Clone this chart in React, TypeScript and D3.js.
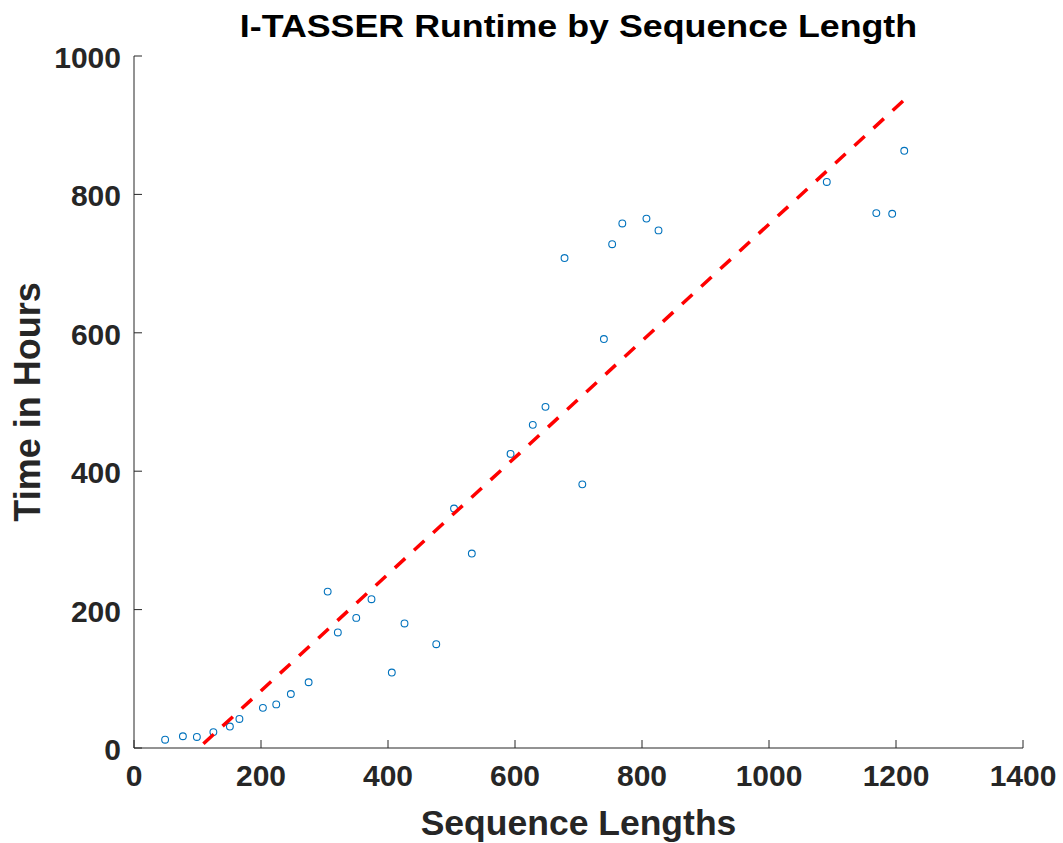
import React from 'react';
import * as d3 from 'd3';

const width = 1063;
const height = 843;
const margin = { top: 56, right: 40, bottom: 95, left: 134 };

// sequence length vs runtime (hours)
const seqLengths = [49, 77, 99, 125, 151, 166, 203, 224, 247, 275, 305, 321, 350, 374, 406, 426, 476,
  504, 532, 593, 628, 648, 678, 706, 740, 753, 769, 807, 826, 1091, 1169, 1194, 1213];
const runtimes = [12, 17, 16, 23, 31, 42, 58, 63, 78, 95, 226, 167, 188, 215, 109, 180, 150,
  346, 281, 425, 467, 493, 708, 381, 591, 728, 758, 765, 748, 818, 773, 772, 863];

// fitted line (slope, intercept) as drawn
const fitSlope = 0.843;
const fitIntercept = -86;

const xTicks = [0, 200, 400, 600, 800, 1000, 1200, 1400];
const yTicks = [0, 200, 400, 600, 800, 1000];

const font = '"Liberation Sans", Arial, sans-serif';
const axisColor = '#262626';

export default function App() {
  const x = d3.scaleLinear().domain([0, 1400]).range([margin.left, width - margin.right]);
  const y = d3.scaleLinear().domain([0, 1000]).range([height - margin.bottom, margin.top]);

  const points = seqLengths.map((s, i) => ({ s, t: runtimes[i] }));
  const xmin = d3.min(seqLengths) as number;
  const xmax = d3.max(seqLengths) as number;
  const fit = [xmin, xmax].map(v => ({ s: v, t: fitSlope * v + fitIntercept }));
  const line = d3.line<{ s: number; t: number }>().x(d => x(d.s)).y(d => y(d.t));

  const x0 = x(0), x1 = x(1400), y0 = y(0), y1 = y(1000);
  const cx = (x0 + x1) / 2;

  return (
    <svg width={width} height={height} style={{ position: 'absolute', left: 0, top: 0, background: '#fff' }}
      fontFamily={font}>
      <defs>
        <clipPath id="plot">
          <rect x={x0} y={y1} width={x1 - x0} height={y0 - y1} />
        </clipPath>
      </defs>

      {/* axes */}
      <line x1={x0} x2={x1} y1={y0} y2={y0} stroke={axisColor} strokeWidth={1} />
      <line x1={x0} x2={x0} y1={y0} y2={y1} stroke={axisColor} strokeWidth={1} />
      {xTicks.map(t => (
        <g key={'x' + t}>
          <line x1={x(t)} x2={x(t)} y1={y0} y2={y0 - 8} stroke={axisColor} />
          <text x={x(t)} y={y0 + 38} textAnchor="middle" fontSize={30} fontWeight="bold" fill={axisColor}>{t}</text>
        </g>
      ))}
      {yTicks.map(t => (
        <g key={'y' + t}>
          <line x1={x0} x2={x0 + 8} y1={y(t)} y2={y(t)} stroke={axisColor} />
          <text x={x0 - 13} y={y(t) + 12} textAnchor="end" fontSize={30} fontWeight="bold" fill={axisColor}>{t}</text>
        </g>
      ))}

      {/* data */}
      <g clipPath="url(#plot)">
        {points.map((p, i) => (
          <circle key={i} cx={x(p.s)} cy={y(p.t)} r={3.4} fill="none" stroke="#0072BD" strokeWidth={1.1} />
        ))}
        <path d={line(fit) || ''} fill="none" stroke="#FF0000" strokeWidth={3.5} strokeDasharray="14 12" />
      </g>

      {/* labels */}
      <text transform={`translate(${cx}, 37) scale(1.155, 1)`} textAnchor="middle" fontSize={31}
        fontWeight="bold" fill="#000">
        I-TASSER Runtime by Sequence Length
      </text>
      <text x={cx} y={835} textAnchor="middle" fontSize={35.5} fontWeight="bold" fill={axisColor}>
        Sequence Lengths
      </text>
      <text transform={`translate(40, ${(y0 + y1) / 2}) rotate(-90)`} textAnchor="middle" fontSize={36}
        fontWeight="bold" fill={axisColor}>
        Time in Hours
      </text>
    </svg>
  );
}
